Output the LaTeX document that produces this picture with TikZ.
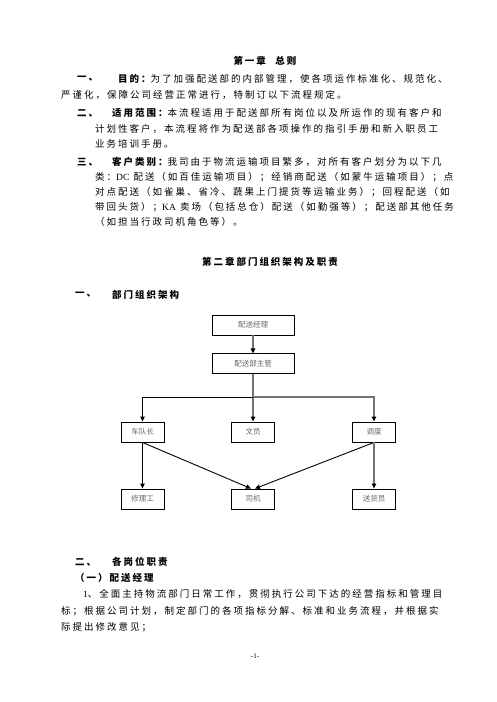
\documentclass[tikz,border=0pt]{standalone}
\usepackage{fontspec}
\usepackage{tikz}
\usetikzlibrary{positioning,arrows.meta}

\newfontfamily\cjk[LetterSpace=21]{Noto Sans CJK SC}
\newfontfamily\cjkbox{Noto Sans CJK SC}
\newfontfamily\latin{Liberation Serif}
\newcommand{\bodyfont}{\cjk\fontsize{9.5}{11}\selectfont}
\newcommand{\boxfont}{\cjkbox\fontsize{7.5}{9}\selectfont}

\begin{document}
\begin{tikzpicture}
  [x=1pt, y=-1pt,
   txt/.style={anchor=west, inner sep=0pt, font=\bodyfont},
   hd/.style={txt, font=\bodyfont\bfseries},
   ttl/.style={inner sep=0pt, font=\bodyfont\bfseries},
   job/.style={rectangle, draw, line width=0.9pt,
     minimum height=20pt, inner sep=0pt,
     font=\boxfont, text=black!60},
   jobwide/.style={job, minimum width=82pt},
   jobsmall/.style={job, minimum width=43pt},
   ln/.style={line width=0.9pt,
     -{Triangle[length=5pt,width=4.5pt,color=black]}},
   gln/.style={ln, draw=black!55, line width=1.6pt},
   node distance=18pt]

  \useasboundingbox[fill=white] (0,0) rectangle (496,702);

  % chapter one
  \node[ttl] (ch1) at (265,61) {第一章\quad 总则};
  \node[hd] (n1) at (77,79) {一、};
  \node[txt] (p1a) at (118,79)
    {{\bfseries 目的：}为了加强配送部的内部管理，使各项运作标准化、规范化、};
  \node[txt] (p1b) at (61,95)
    {严谨化，保障公司经营正常进行，特制订以下流程规定。};
  \node[hd] (n2) at (77,113) {二、};
  \node[txt] (p2a) at (112,113)
    {{\bfseries 适用范围：}本流程适用于配送部所有岗位以及所运作的现有客户和};
  \node[txt] (p2b) at (95,129)
    {计划性客户，本流程将作为配送部各项操作的指引手册和新入职员工};
  \node[txt] (p2c) at (95,144) {业务培训手册。};
  \node[hd] (n3) at (77,162) {三、};
  \node[txt] (p3a) at (112,162)
    {{\bfseries 客户类别：}我司由于物流运输项目繁多，对所有客户划分为以下几};
  \node[txt] (p3b) at (95,177)
    {类：{\latin DC} 配送（如百佳运输项目）；经销商配送（如蒙牛运输项目）；点};
  \node[txt] (p3c) at (95,192)
    {对点配送（如雀巢、省冷、蔬果上门提货等运输业务）；回程配送（如};
  \node[txt] (p3d) at (95,207)
    {带回头货）；{\latin KA} 卖场（包括总仓）配送（如勤强等）；配送部其他任务};
  \node[txt] (p3e) at (95,222) {（如担当行政司机角色等）。};

  % chapter two
  \node[ttl] (ch2) at (270,262) {第二章部门组织架构及职责};
  \node[hd] (m1) at (75,295) {一、};
  \node[hd] (m1t) at (112,295) {部门组织架构};

  % org chart
  \node[jobwide] (jl) at (253,325) {配送经理};
  \node[jobwide, below=of jl] (zg) {配送部主管};
  \coordinate (br) at (253,397);
  \node[jobsmall] (cdz) at (142.5,432) {车队长};
  \node[jobsmall] (wy) at (253,432) {文员};
  \node[jobsmall] (dd) at (374,432) {调度};
  \node[jobsmall] (xlg) at (142.5,499) {修理工};
  \node[jobsmall] (sj) at (253,499) {司机};
  \node[jobsmall] (shy) at (374,499) {送货员};

  \draw[gln] (jl) -- (zg);
  \draw[gln, -] (zg) -- (br);
  \draw[gln] (br) -- (wy);
  \draw[ln] (br) -| (cdz);
  \draw[gln] (br) -| (dd);
  \draw[ln] (cdz) -- (xlg);
  \draw[ln] (cdz.south) -- ([xshift=-2pt]sj.north);
  \draw[ln] (dd.south) -- ([xshift=2pt]sj.north);
  \draw[gln] (dd) -- (shy);

  \node[hd] (m2) at (75,562) {二、};
  \node[hd] (m2t) at (112,562) {各岗位职责};
  \node[hd] (m3) at (75,578) {（一）配送经理};
  \node[txt] (q1a) at (83,594)
    {{\latin 1}、全面主持物流部门日常工作，贯彻执行公司下达的经营指标和管理目};
  \node[txt] (q1b) at (61,611)
    {标；根据公司计划，制定部门的各项指标分解、标准和业务流程，并根据实};
  \node[txt] (q1c) at (61,627) {际提出修改意见；};
  \node[inner sep=0pt, font=\latin\fontsize{7}{8}\selectfont] (pg) at (255,656) {-1-};
\end{tikzpicture}
\end{document}
